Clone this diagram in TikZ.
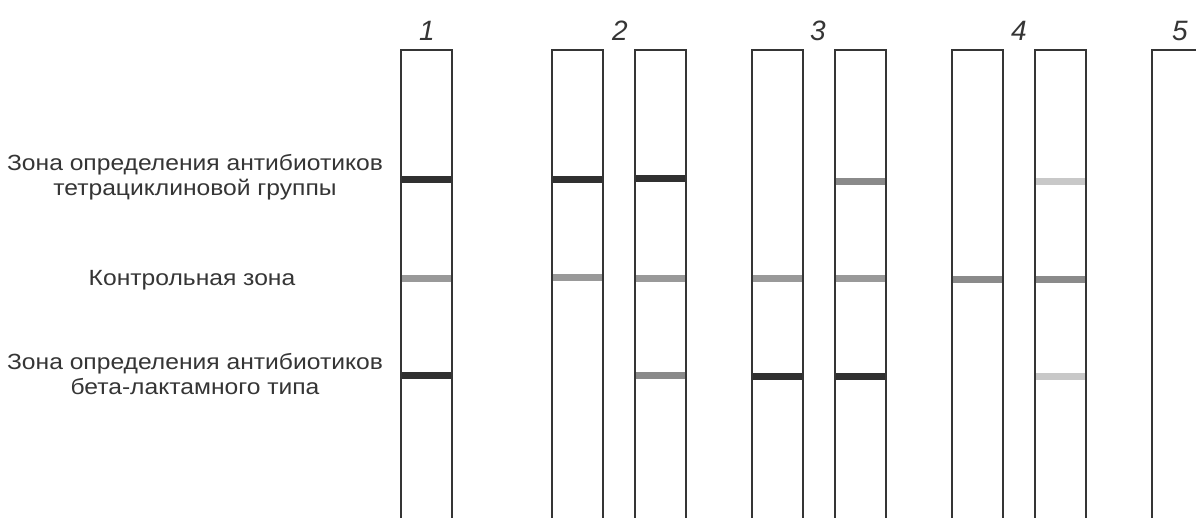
\documentclass[tikz,border=0pt]{standalone}
\usepackage{fontspec}
\setmainfont{Liberation Sans}
\newfontfamily\zonefont[FakeStretch=1.12]{Liberation Sans}
\definecolor{ink}{HTML}{353535}
\definecolor{bdark}{HTML}{303030}
\definecolor{bctrl}{HTML}{999999}
\definecolor{bmid}{HTML}{8A8A8A}
\definecolor{blight}{HTML}{C8C8C8}
\begin{document}
\begin{tikzpicture}[x=1pt,y=-1pt,
  stripline/.style={draw=ink,line width=2.4pt},
  band/.style={line width=7pt},
  zonelabel/.style={text=ink,font=\zonefont\fontsize{22}{25}\selectfont,align=center,inner sep=0pt},
  numlabel/.style={text=ink,font=\fontsize{28}{30}\selectfont\itshape,inner sep=0pt}]
\useasboundingbox (0,0) rectangle (1196,517);
\clip (0,0) rectangle (1196,517);
\fill[white] (0,0) rectangle (1196,517);
% strips
\foreach \x in {401,552,635,752,835,952,1035,1152}{
  \draw[stripline] (\x,530) -- (\x,50) -- (\x+51,50) -- (\x+51,530);
}
% bands: \bandline{left}{y}{colour}
\newcommand{\bandline}[3]{\draw[band,#3] (#1+1.2,#2) -- (#1+49.8,#2);}
% strip 1
\bandline{401}{179}{bdark}
\bandline{401}{278}{bctrl}
\bandline{401}{375}{bdark}
% strip 2a
\bandline{552}{179}{bdark}
\bandline{552}{277}{bctrl}
% strip 2b
\bandline{635}{178}{bdark}
\bandline{635}{278}{bctrl}
\bandline{635}{375}{bmid}
% strip 3a
\bandline{752}{278}{bctrl}
\bandline{752}{376}{bdark}
% strip 3b
\bandline{835}{181}{bmid}
\bandline{835}{278}{bctrl}
\bandline{835}{376}{bdark}
% strip 4a
\bandline{952}{279}{bmid}
% strip 4b
\bandline{1035}{181}{blight}
\bandline{1035}{279}{bmid}
\bandline{1035}{376}{blight}
% numbers
\node[numlabel] (n1) at (427,31) {1};
\node[numlabel] (n2) at (620,31) {2};
\node[numlabel] (n3) at (818,31) {3};
\node[numlabel] (n4) at (1019,31) {4};
\node[numlabel] (n5) at (1180,31) {5};
% zone labels
\node[zonelabel] (tz) at (195,177) {Зона определения антибиотиков\\тетрациклиновой группы};
\node[zonelabel] (cz) at (192,280) {Контрольная зона};
\node[zonelabel] (bz) at (195,374) {Зона определения антибиотиков\\бета-лактамного типа};
\end{tikzpicture}
\end{document}
